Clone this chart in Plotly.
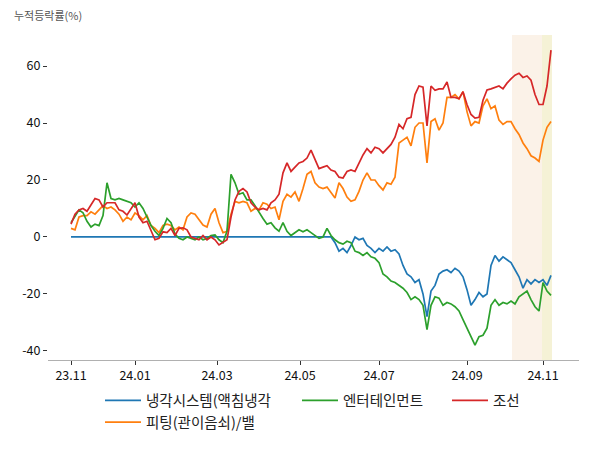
import plotly.graph_objects as go

# ---- data (trading-day index steps; values in %) ----
names = ["냉각시스템(액침냉각", "피팅(관이음쇠)/밸", "엔터테인먼트", "조선"]
colors = ["#1f77b4", "#ff7f0e", "#2ca02c", "#d62728"]

cooling = [0]*66 + [
    -2, -5, -4, -5.5, -3, 0, -1, -0.5, -3, -4,
    -5.5, -4, -5, -3.5, -5, -4.5, -6, -10, -13, -14,
    -16, -15, -20, -28, -19, -17, -13, -12, -11.5, -12.5,
    -11, -12, -14, -18.5, -24, -22, -19.5, -21, -20, -10,
    -6.5, -8.5, -7, -8, -9, -11.5, -14, -18, -15, -16.5,
    -15, -16, -15, -17, -13.5]

fitting = [
    3, 2.5, 7, 7.5, 7.5, 8.8, 8, 9.5, 11, 10,
    10.5, 9.5, 8, 5.5, 7, 6, 8.4, 7.5, 6, 7.5,
    4, 3, 1.5, 4, 4.5, 4, 2.5, 3.5, 2.5, 7,
    8.4, 8, 6, 4.2, 3.5, 8, 10, 5, 1.5, 2,
    8, 12.5, 12, 12.5, 12, 9, 10, 9.5, 12, 11.5,
    10, 10.5, 6, 12.5, 15, 14, 15.8, 12.5, 17, 22,
    23, 19, 17.5, 17, 17.5, 15.5, 13.7, 19, 17, 14,
    12.5, 13, 16, 20, 22.5, 20, 20, 18, 16.5, 19,
    18.5, 21, 33, 34, 35, 32, 38.5, 40, 40, 26,
    40.5, 41.5, 37.5, 40, 49, 49, 50, 48.5, 51, 44,
    39, 40.5, 40, 46, 48.5, 45, 46, 41, 39.5, 40.5,
    40.5, 38, 36, 33, 31, 28.5, 27.7, 26.5, 34, 38.5,
    40.5]

ent = [
    5, 7.5, 9.5, 8.5, 5.5, 3.5, 4.5, 4, 7.5, 19,
    13.5, 13, 13.5, 13, 12.5, 12, 10.5, 12, 10, 7,
    4, 2, 0.5, 3, 6.5, 5, 1, -0.5, -1, 0,
    -0.5, -1, 0, -1, -0.5, 0.5, 0.7, -1, -2, 2,
    22, 19, 15, 15.5, 13, 13, 11, 8.5, 6.5, 4.5,
    5, 3.2, 2, 5, 2, 0.5, 1.5, 2.5, 1.8, 2.5,
    1.5, 0.5, -0.5, 0, 3, 0.5, -1, -2, -2.5, -1.5,
    -2, -5, -5.5, -6.5, -5.5, -7, -7.5, -9, -13, -14,
    -15.5, -16, -17, -18, -19.5, -22, -21, -22, -24, -32.5,
    -24, -21, -21.5, -24, -23, -23.5, -24.5, -26, -29, -32,
    -35.5, -38, -35, -34.5, -32, -24, -22, -24, -23, -23.5,
    -22.5, -23.5, -21, -20, -19, -22, -24.5, -26, -16, -19,
    -20.5]

ship = [
    4.5, 8, 9.5, 10, 9, 11.5, 13.5, 13, 10.5, 12,
    12, 12, 9.5, 9, 7.7, 10, 12, 7, 5, 5.5,
    2, -1, -0.5, 1.8, 1.5, 3, 0.5, 3, 3.2, 2.5,
    0, -0.5, -1, 0.5, -1, 0, -1, -2.8, -2, -1,
    7, 13, 16, 17, 15.8, 12, 10.5, 9.5, 10, 9.5,
    12, 13, 15, 22.5, 26, 23, 24.5, 26, 26.5, 27.7,
    30.5, 27, 24, 24.5, 25, 23.5, 23, 21, 20.7, 23,
    23.5, 23, 26, 28.8, 31, 29.5, 31.5, 31, 29.5, 31,
    32.5, 35, 39.5, 38, 41.5, 42, 50, 53, 52.6, 39,
    53, 51.5, 52, 52, 54.4, 49, 49, 48.5, 51, 46.5,
    43, 41.7, 42, 48, 51.6, 52, 52.5, 53, 52, 54,
    55.5, 56.8, 57.5, 56, 56.5, 55, 50, 46.5, 46.5, 53,
    65.6]

series = [cooling, fitting, ent, ship]

tick_pos = [0, 16, 36.5, 57.25, 77, 99, 118]
tick_text = ["23.11", "24.01", "24.03", "24.05", "24.07", "24.09", "24.11"]
y_ticks = [60, 40, 20, 0, -20, -40]
y_text = ["60", "40", "20", "0", "-20", "-40"]

# highlighted periods (index units)
band_orange = [110.25, 117.75]
band_yellow = [117.75, 120.25]

FONT = "Noto Sans CJK KR, Noto Sans, sans-serif"

fig = go.Figure()
legend_of = ["legend", "legend", "legend2", "legend3"]
for name, col, vals, lg in zip(names, colors, series, legend_of):
    fig.add_trace(go.Scatter(
        x=list(range(len(vals))), y=vals, mode="lines", name=name,
        line=dict(color=col, width=1.7), legend=lg))

fig.add_vrect(x0=band_orange[0], x1=band_orange[1], fillcolor="#fbf2e8",
              line_width=0, layer="below")
fig.add_vrect(x0=band_yellow[0], x1=band_yellow[1], fillcolor="#f5f2d6",
              line_width=0, layer="below")

leg_common = dict(orientation="v", yanchor="top", xanchor="left",
                  bgcolor="rgba(0,0,0,0)", borderwidth=0, itemwidth=36,
                  font=dict(family=FONT, size=14.5, color="#222"),
                  tracegroupgap=0)
fig.update_layout(
    width=600, height=450,
    margin=dict(l=48, r=21, t=35, b=90),
    paper_bgcolor="white", plot_bgcolor="white",
    font=dict(family=FONT, size=12, color="#222"),
    showlegend=True,
    legend=dict(x=(100 - 48) / 531, y=-0.075, **leg_common),
    legend2=dict(x=(297 - 48) / 531, y=-0.075, **leg_common),
    legend3=dict(x=(447 - 48) / 531, y=-0.075, **leg_common),
    xaxis=dict(range=[-5.75, 127], showgrid=False, zeroline=False,
               showline=True, linecolor="#b0b0b0", linewidth=1,
               ticks="outside", ticklen=4, tickcolor="#333",
               tickmode="array", tickvals=tick_pos, ticktext=tick_text,
               tickfont=dict(size=12.5, color="#111")),
    yaxis=dict(range=[-43.2, 70.9], showgrid=False, zeroline=False,
               showline=False, ticks="outside", ticklen=4, tickcolor="#333",
               tickmode="array", tickvals=y_ticks, ticktext=y_text,
               tickfont=dict(size=12.5, color="#111")),
    annotations=[dict(text="누적등락률(%)", xref="paper", yref="paper",
                      x=(12 - 48) / 531, y=(360 - 15) / 325,
                      xanchor="left", yanchor="middle", showarrow=False,
                      font=dict(family=FONT, size=11, color="#555"))],
)

fig.write_html("out.html")
